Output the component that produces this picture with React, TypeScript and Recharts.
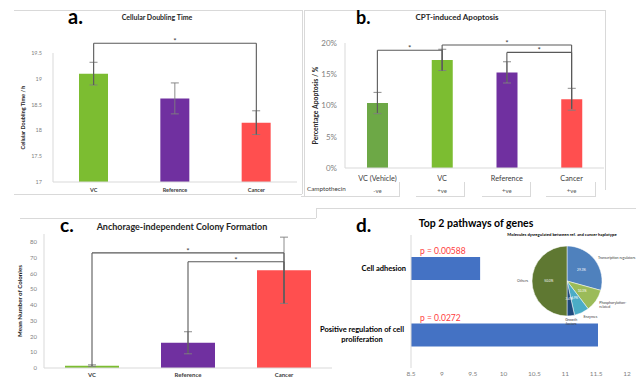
import React from "react";
import {
  BarChart,
  Bar,
  XAxis,
  YAxis,
  Cell,
  ErrorBar,
  ReferenceLine,
  Label,
  LabelList,
  PieChart,
  Pie,
} from "recharts";

const FONT = "Lato, 'Open Sans', sans-serif";

// a. cellular doubling time (h)
const doublingGroups = ["VC", "Reference", "Cancer"];
const doublingHours = [19.1, 18.62, 18.15];
const doublingErr = [0.22, 0.3, 0.23];
const doublingTicks = [17, 17.5, 18, 18.5, 19, 19.5];

// b. CPT-induced apoptosis (%)
const apoptosisGroups = ["VC (Vehicle)", "VC", "Reference", "Cancer"];
const apoptosisPct = [10.4, 17.3, 15.3, 11.0];
const apoptosisErr = [1.7, 1.7, 1.7, 1.75];
const camptothecin = ["-ve", "+ve", "+ve", "+ve"];
const apoptosisTicks = [0, 5, 10, 15, 20];

// c. anchorage-independent colonies
const colonyGroups = ["VC", "Reference", "Cancer"];
const colonyMeans = [1.5, 16, 62];
const colonyErr = [0.5, 7, 21];
const colonyTicks = [0, 10, 20, 30, 40, 50, 60, 70, 80];

// d. top pathways
const pathways = ["Cell adhesion", "Positive regulation of cell\nproliferation"];
const pathwayScores = [9.62, 11.53];
const pathwayPValues = ["p = 0.00588", "p = 0.0272"];
const pathwayTicks = [8.5, 9, 9.5, 10, 10.5, 11, 11.5, 12];

// inset pie
const moleculeClasses = ["Transcription regulators", "Phosphorylation-\nrelated", "Enzymes", "Growth\nfactors", "Others"];
const moleculeCounts = [17, 6, 4, 2, 29];

// significance brackets: from, to, bar height, low end at from, low end at to
const doublingSig: [string, string, number, number, number][] = [["VC", "Cancer", 19.69, 18.88, 17.92]];
const apoptosisSig: [string, string, number, number, number][] = [
  ["VC (Vehicle)", "VC", 18.83, 8.8, 15.6],
  ["VC", "Cancer", 19.68, 15.6, 9.5],
  ["Reference", "Cancer", 18.5, 13.8, 9.5],
];
const colonySig: [string, string, number, number, number][] = [
  ["VC", "Cancer", 73, 1.2, 41],
  ["Reference", "Cancer", 67.4, 9.5, 41],
];

const GREEN = "#7CBD31";
const PURPLE = "#7030A0";
const RED = "#FF4F4F";
const colors3 = [GREEN, PURPLE, RED];
const apoptosisColors = ["#6DA846", GREEN, PURPLE, RED];
const pieColors = ["#4F81BD", "#9BBB59", "#4BACC6", "#1F497D", "#5F7832"];
const FRAME = "#D9D9D9";

function sigBrackets(list: [string, string, number, number, number][], id: string) {
  return list.flatMap(([from, to, top, lowFrom, lowTo], i) => {
    const line = { stroke: "#595959", strokeWidth: 1.1, ifOverflow: "visible" as const };
    return [
      <ReferenceLine
        key={`${id}${i}h`}
        segment={[{ x: from, y: top }, { x: to, y: top }]}
        {...line}
        label={{ value: "*", position: "top", offset: -1, fontSize: 8, fill: "#404040" }}
      />,
      <ReferenceLine key={`${id}${i}a`} segment={[{ x: from, y: top }, { x: from, y: lowFrom }]} {...line} />,
      <ReferenceLine key={`${id}${i}b`} segment={[{ x: to, y: top }, { x: to, y: lowTo }]} {...line} />,
    ];
  });
}

const ApoptosisTick = (props: any) => {
  const { x, y, payload } = props;
  const idx = apoptosisGroups.indexOf(payload.value);
  return (
    <g>
      <text x={x} y={y + 11.3} textAnchor="middle" fontSize={7.3} fill="#404040">
        {payload.value}
      </text>
      <text x={x} y={y + 23} textAnchor="middle" fontSize={6} fill="#595959">
        {camptothecin[idx]}
      </text>
    </g>
  );
};

const PathwayTick = (props: any) => {
  const { x, y, payload } = props;
  const lines = String(payload.value).split("\n");
  const multi = lines.length > 1;
  const tx = multi ? x - 44 : x;
  return (
    <text x={tx} y={y} textAnchor={multi ? "middle" : "end"} fontSize={7.5} fontWeight={700} fill="#000">
      {lines.map((l, i) => (
        <tspan key={i} x={tx} dy={i === 0 ? (multi ? -2.3 : 2.7) : 10}>
          {l}
        </tspan>
      ))}
    </text>
  );
};

const PLabel = (props: any) => (
  <text x={props.x + 9} y={props.y - 3} fontSize={8.5} fill="#FF3B3B">
    {props.value}
  </text>
);

const RAD = Math.PI / 180;
function renderPieLabel(p: any) {
  const { cx, cy, midAngle, outerRadius, percent, name } = p;
  const cos = Math.cos(-midAngle * RAD);
  const sin = Math.sin(-midAngle * RAD);
  const ix = cx + outerRadius * 0.52 * cos;
  const iy = cy + outerRadius * 0.52 * sin;
  const ox = cx + (outerRadius + 4) * cos;
  const oy = cy + (outerRadius + 4) * sin;
  const anchor = cos > 0.3 ? "start" : cos < -0.3 ? "end" : "middle";
  const lines = String(name).split("\n");
  return (
    <g>
      <text x={ix} y={iy + 1} textAnchor="middle" fontSize={3.2} fill="#fff">
        {(percent * 100).toFixed(1)}%
      </text>
      <text x={ox} y={oy + 1.3} textAnchor={anchor} fontSize={3.6} fill="#404040">
        {lines.map((l, i) => (
          <tspan key={i} x={ox} dy={i === 0 ? 0 : 4}>
            {l}
          </tspan>
        ))}
      </text>
    </g>
  );
}

export default function App() {
  const dataA = doublingGroups.map((name, i) => ({ name, value: doublingHours[i], err: doublingErr[i] }));
  const dataB = apoptosisGroups.map((name, i) => ({ name, value: apoptosisPct[i], err: apoptosisErr[i] }));
  const dataC = colonyGroups.map((name, i) => ({ name, value: colonyMeans[i], err: colonyErr[i] }));
  const dataD = pathways.map((name, i) => ({ name, value: pathwayScores[i], p: pathwayPValues[i] }));
  const dataPie = moleculeClasses.map((name, i) => ({ name, value: moleculeCounts[i] }));

  const tickGray = "#7F7F7F";

  return (
    <div
      style={{
        position: "fixed",
        left: 0,
        top: 0,
        width: 636,
        height: 378,
        background: "#fff",
        overflow: "hidden",
        fontFamily: FONT,
      }}
    >
      <svg width={636} height={378} style={{ position: "absolute", left: 0, top: 0 }}>
        <g stroke={FRAME} strokeWidth={1}>
          <line x1={14} y1={10.5} x2={302} y2={10.5} />
          <line x1={302.5} y1={10} x2={302.5} y2={194} />
          <line x1={14} y1={194.5} x2={302} y2={194.5} />
          <line x1={304.5} y1={10} x2={304.5} y2={197} />
          <line x1={304} y1={10.5} x2={605} y2={10.5} />
          <line x1={605.5} y1={10} x2={605.5} y2={190} />
          <line x1={301} y1={196.5} x2={399} y2={196.5} />
          <line x1={399.5} y1={182} x2={399.5} y2={197} />
          <line x1={416} y1={196.5} x2={464} y2={196.5} />
          <line x1={464.5} y1={182} x2={464.5} y2={197} />
          <line x1={482} y1={196.5} x2={530} y2={196.5} />
          <line x1={530.5} y1={182} x2={530.5} y2={197} />
          <line x1={546} y1={196.5} x2={595} y2={196.5} />
          <line x1={595.5} y1={182} x2={595.5} y2={197} />
          <line x1={20} y1={218.5} x2={316} y2={218.5} />
          <line x1={316.5} y1={208} x2={316.5} y2={218} />
          <line x1={316} y1={208.5} x2={636} y2={208.5} />
        </g>
        <text x={68} y={24} fontSize={20} fontWeight={700} fill="#000">a.</text>
        <text x={157} y={19.5} fontSize={7} fontWeight={700} textAnchor="middle" fill="#262626">
          Cellular Doubling Time
        </text>
        <text x={356} y={24} fontSize={18} fontWeight={700} fill="#000">b.</text>
        <text x={457} y={20} fontSize={8} fontWeight={700} textAnchor="middle" fill="#262626">
          CPT-induced Apoptosis
        </text>
        <text x={307} y={191} fontSize={6.3} fill="#404040">Camptothecin</text>
        <text x={60} y={232} fontSize={19} fontWeight={700} fill="#000">c.</text>
        <text x={182} y={230} fontSize={9} fontWeight={700} textAnchor="middle" fill="#262626">
          Anchorage-independent Colony Formation
        </text>
        <text x={356} y={232} fontSize={19} fontWeight={700} fill="#000">d.</text>
        <text x={476} y={226.5} fontSize={10.5} fontWeight={700} textAnchor="middle" fill="#000">
          Top 2 pathways of genes
        </text>
        <text x={562} y={235.5} fontSize={4.2} fontWeight={700} textAnchor="middle" fill="#000">
          Molecules dysregulated between ref. and cancer haplotype
        </text>
      </svg>

      {/* a. */}
      <div style={{ position: "absolute", left: 0, top: 0 }}>
        <BarChart width={300} height={200} data={dataA} margin={{ top: 53, right: 3, bottom: 0, left: 0 }}>
          <XAxis
            dataKey="name"
            height={18}
            interval={0}
            tickLine={false}
            axisLine={{ stroke: FRAME }}
            tickSize={4}
            tickMargin={2}
            tick={{ fontSize: 5.5, fill: "#404040", fontWeight: 700 }}
          />
          <YAxis
            width={53}
            domain={[17, 19.5]}
            ticks={doublingTicks}
            allowDataOverflow
            tickLine={false}
            axisLine={{ stroke: FRAME }}
            tickMargin={5}
            tick={{ fontSize: 5.5, fill: tickGray }}
          >
            <Label
              value="Cellular Doubling Time / h"
              angle={-90}
              position="center"
              dx={-3}
              style={{ fontSize: 5.5, fontWeight: 700, fill: "#262626" }}
            />
          </YAxis>
          <Bar dataKey="value" barSize={29} isAnimationActive={false}>
            {dataA.map((d, i) => (
              <Cell key={d.name} fill={colors3[i]} />
            ))}
            <ErrorBar dataKey="err" width={4} stroke={tickGray} strokeWidth={0.9} />
          </Bar>
          {sigBrackets(doublingSig, "a")}
        </BarChart>
      </div>

      {/* b. */}
      <div style={{ position: "absolute", left: 300, top: 0 }}>
        <BarChart width={304} height={200} data={dataB} margin={{ top: 43, right: 0, bottom: 0, left: 0 }}>
          <XAxis
            dataKey="name"
            height={32}
            interval={0}
            tickLine={false}
            axisLine={{ stroke: FRAME }}
            tickSize={0}
            tick={<ApoptosisTick />}
          />
          <YAxis
            width={45}
            domain={[0, 20]}
            ticks={apoptosisTicks}
            allowDataOverflow
            tickLine={false}
            axisLine={{ stroke: FRAME }}
            tickFormatter={(v: number) => `${v}%`}
            tick={{ fontSize: 8, fill: tickGray }}
          >
            <Label
              value="Percentage Apoptosis / %"
              angle={-90}
              position="center"
              dx={-7}
              style={{ fontSize: 6.8, fontWeight: 700, fill: "#262626" }}
            />
          </YAxis>
          <Bar dataKey="value" barSize={21} isAnimationActive={false}>
            {dataB.map((d, i) => (
              <Cell key={d.name} fill={apoptosisColors[i]} />
            ))}
            <ErrorBar dataKey="err" width={4} stroke={tickGray} strokeWidth={0.9} />
          </Bar>
          {sigBrackets(apoptosisSig, "b")}
        </BarChart>
      </div>

      {/* c. */}
      <div style={{ position: "absolute", left: 0, top: 200 }}>
        <BarChart width={332} height={178} data={dataC} margin={{ top: 34, right: 0, bottom: 0, left: 0 }}>
          <XAxis
            dataKey="name"
            height={10}
            interval={0}
            tickLine={false}
            axisLine={{ stroke: FRAME }}
            tickSize={5}
            tickMargin={0}
            tick={{ fontSize: 6, fill: "#404040", fontWeight: 700 }}
          />
          <YAxis
            width={44}
            domain={[0, 85]}
            ticks={colonyTicks}
            allowDataOverflow
            tickLine={false}
            axisLine={{ stroke: FRAME }}
            tickMargin={1}
            tick={{ fontSize: 6, fill: tickGray }}
          >
            <Label
              value="Mean Number of Colonies"
              angle={-90}
              position="center"
              dx={-2}
              style={{ fontSize: 6.2, fontWeight: 700, fill: "#262626" }}
            />
          </YAxis>
          <Bar dataKey="value" barSize={54} isAnimationActive={false}>
            {dataC.map((d, i) => (
              <Cell key={d.name} fill={colors3[i]} />
            ))}
            <ErrorBar dataKey="err" width={4} stroke={tickGray} strokeWidth={0.9} />
          </Bar>
          {sigBrackets(colonySig, "c")}
        </BarChart>
      </div>

      {/* d. */}
      <div style={{ position: "absolute", left: 316, top: 208 }}>
        <BarChart
          width={320}
          height={170}
          layout="vertical"
          data={dataD}
          margin={{ top: 27, right: 9, bottom: 0, left: 0 }}
        >
          <XAxis
            type="number"
            domain={[8.5, 12]}
            ticks={pathwayTicks}
            allowDataOverflow
            height={10}
            axisLine={false}
            tickLine={false}
            tickSize={2}
            tickMargin={1}
            tick={{ fontSize: 6.5, fill: tickGray }}
          />
          <YAxis
            type="category"
            dataKey="name"
            width={95}
            axisLine={{ stroke: FRAME }}
            tickLine={false}
            tickSize={0}
            tickMargin={5}
            tick={<PathwayTick />}
          />
          <Bar dataKey="value" barSize={23} fill="#4472C4" isAnimationActive={false}>
            <LabelList dataKey="p" content={<PLabel />} />
          </Bar>
        </BarChart>
      </div>

      {/* inset pie */}
      <div style={{ position: "absolute", left: 490, top: 228 }}>
        <PieChart width={146} height={104}>
          <Pie
            data={dataPie}
            dataKey="value"
            nameKey="name"
            cx={72}
            cy={48}
            outerRadius={35}
            startAngle={90}
            endAngle={-270}
            stroke="#fff"
            strokeWidth={0.5}
            label={renderPieLabel}
            labelLine={false}
            isAnimationActive={false}
          >
            {dataPie.map((d, i) => (
              <Cell key={d.name} fill={pieColors[i]} />
            ))}
          </Pie>
        </PieChart>
      </div>
    </div>
  );
}
